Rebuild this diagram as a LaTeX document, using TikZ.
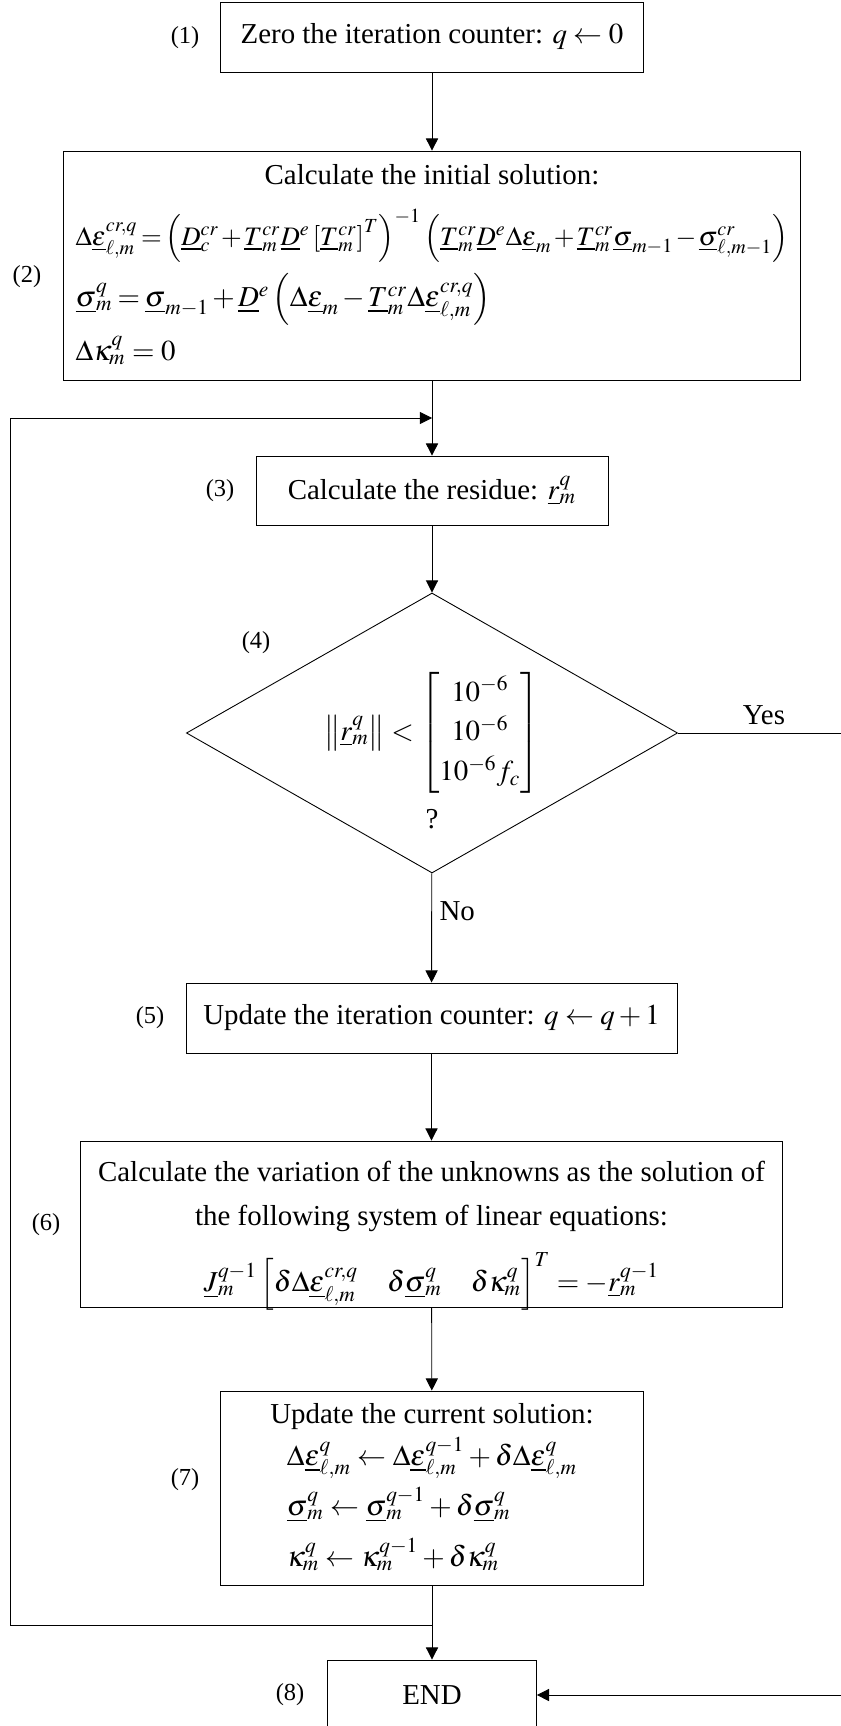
\documentclass[tikz,border=0pt]{standalone}
\usepackage{amsmath}
\usepackage{mathptmx}
\usepackage[no-math]{fontspec}
\setmainfont{Liberation Serif}
\usetikzlibrary{shapes.geometric,arrows.meta}

\newcommand{\uv}[1]{\underline{#1}}

\begin{document}
\begin{tikzpicture}[x=0.45pt,y=-0.45pt,
  box/.style={draw,thin,inner sep=2pt,font=\fontsize{13}{16}\selectfont},
  stepno/.style={font=\fontsize{11}{13}\selectfont},
  flow/.style={-{Triangle[length=5.5pt,width=5.5pt]},thin}]
\useasboundingbox (0,0) rectangle (841,1726);
\clip (0,0) rectangle (841,1726);
% steps of the iteration
\node[box,minimum width=190pt,minimum height=31.5pt] (zero) at (432,37)
  {Zero the iteration counter: $q\leftarrow 0$};
\node[box,minimum width=332pt,minimum height=103pt] (init) at (432,265.5)
  {\begin{tabular}{@{}l@{}}
   \multicolumn{1}{c}{Calculate the initial solution:}\\[6pt]
   {\fontsize{12}{14}\selectfont\medmuskip=1.5mu\thickmuskip=2.5mu
   $\Delta\uv{\varepsilon}^{cr,q}_{\ell,m}=\left(\uv{D}^{cr}_c+\uv{T}^{cr}_m\uv{D}^e\left[\uv{T}^{cr}_m\right]^T\right)^{-1}
    \left(\uv{T}^{cr}_m\uv{D}^e\Delta\uv{\varepsilon}_m+\uv{T}^{cr}_m\uv{\sigma}_{m-1}-\uv{\sigma}^{cr}_{\ell,m-1}\right)$}\\[8pt]
   {\medmuskip=2mu\thickmuskip=3mu
   $\uv{\sigma}^q_m=\uv{\sigma}_{m-1}+\uv{D}^e\left(\Delta\uv{\varepsilon}_m-\uv{T}^{cr}_m\Delta\uv{\varepsilon}^{cr,q}_{\ell,m}\right)$}\\[8pt]
   $\Delta\kappa^q_m=0$
   \end{tabular}};
\node[box,minimum width=158.4pt,minimum height=31pt] (resid) at (432,490.5)
  {Calculate the residue: $\uv{r}^q_m$};
\node[box,shape=diamond,aspect=1.75,inner sep=0pt,minimum width=221pt,minimum height=126pt] (check) at (432,733)
  {$\left\|\uv{r}^q_m\right\|<{\renewcommand{\arraystretch}{1.12}\begin{bmatrix}10^{-6}\\10^{-6}\\10^{-6}f_c\end{bmatrix}}$};
\node[font=\fontsize{13}{16}\selectfont] (qmark) at (432,819) {?};
\node[box,minimum width=221pt,minimum height=31.5pt] (update) at (431.5,1018)
  {Update the iteration counter: $q\leftarrow q+1$};
\node[box,minimum width=316pt,minimum height=74.7pt] (solve) at (431.5,1224)
  {\begin{tabular}{@{}c@{}}
   Calculate the variation of the unknowns as the solution of\\[4pt]
   the following system of linear equations:\\[7.5pt]
   $\uv{J}^{q-1}_m\left[\delta\Delta\uv{\varepsilon}^{cr,q}_{\ell,m}\quad\delta\uv{\sigma}^q_m\quad\delta\kappa^q_m\right]^T=-\uv{r}^{q-1}_m$\\[-8.5pt]
   \end{tabular}};
\node[box,minimum width=190pt,minimum height=87.3pt] (correct) at (432,1488)
  {\begin{tabular}{@{}c@{}}
   Update the current solution:\\[1pt]
   \begin{tabular}{@{}l@{}}
   $\Delta\uv{\varepsilon}^q_{\ell,m}\leftarrow\Delta\uv{\varepsilon}^{q-1}_{\ell,m}+\delta\Delta\uv{\varepsilon}^q_{\ell,m}$\\[5pt]
   $\uv{\sigma}^q_m\leftarrow\uv{\sigma}^{q-1}_m+\delta\uv{\sigma}^q_m$\\[5pt]
   $\kappa^q_m\leftarrow\kappa^{q-1}_m+\delta\kappa^q_m$
   \end{tabular}
   \end{tabular}};
\node[box,minimum width=94pt,minimum height=31.5pt] (stop) at (432,1695) {END};
% step numbers
\node[stepno] (n1) at (185,38) {(1)};
\node[stepno] (n2) at (27,277) {(2)};
\node[stepno] (n3) at (220,491) {(3)};
\node[stepno] (n4) at (256,643) {(4)};
\node[stepno] (n5) at (150,1018) {(5)};
\node[stepno] (n6) at (46,1225) {(6)};
\node[stepno] (n7) at (185,1480) {(7)};
\node[stepno] (n8) at (290,1695) {(8)};
% connectors
\coordinate (loopin) at (432,418);
\coordinate (loopout) at (432,1625);
\coordinate (rail) at (10,418);
\coordinate (yesrail) at (850,733);
\draw[flow] (zero) -- (init);
\draw[flow] (init) -- (resid);
\draw[flow] (resid) -- (check);
\draw[flow] (check) -- node[right,pos=0.35,font=\fontsize{13}{16}\selectfont] {No} (update);
\draw[flow] (update) -- (solve);
\draw[flow] (solve) -- (correct);
\draw[flow] (correct) -- (stop);
\draw[flow] (loopout) -| (rail) -- (loopin);
\draw[flow] (check.east) -- node[above,font=\fontsize{13}{16}\selectfont] {Yes} (yesrail) |- (stop.east);
\end{tikzpicture}
\end{document}
